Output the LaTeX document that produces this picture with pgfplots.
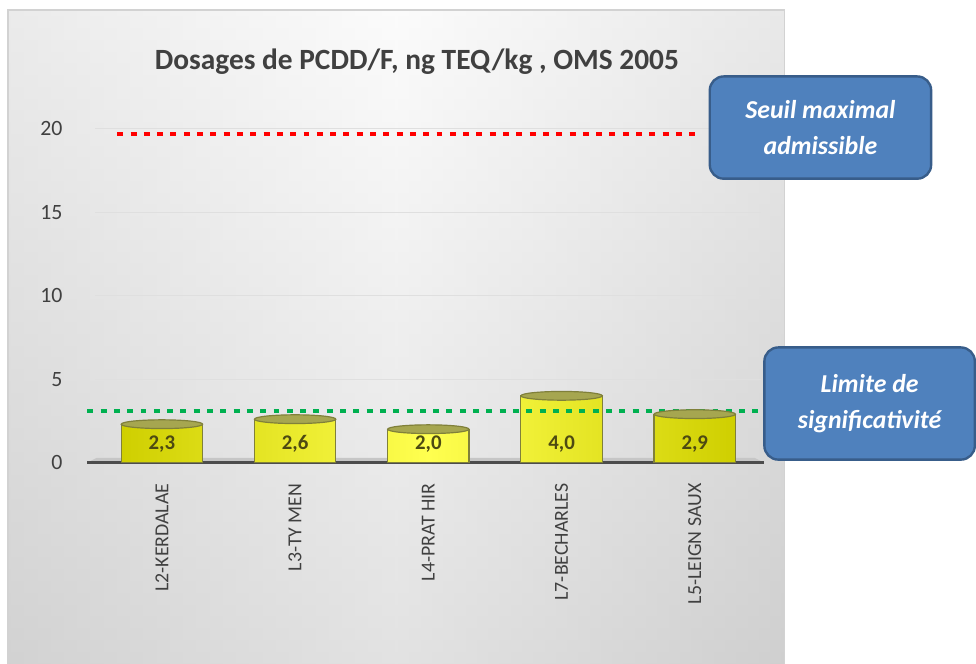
\documentclass[border=0pt]{standalone}
\usepackage{pgfplots}
\pgfplotsset{compat=1.18}
\usepackage{pgfplotstable}
\usepackage{fontspec}
\setmainfont{Carlito}

\definecolor{txt}{HTML}{404040}
\definecolor{boxblue}{HTML}{4F81BD}
\definecolor{boxedge}{HTML}{385D8A}
\definecolor{seuil}{HTML}{FF0000}
\definecolor{limite}{HTML}{00B050}
\definecolor{barmid}{HTML}{FFFF50}
\definecolor{baredge}{HTML}{CFCF00}
\definecolor{barline}{HTML}{80803A}
\definecolor{capfill}{HTML}{A6A650}
\definecolor{vallab}{HTML}{4D4A12}

% flat ellipse used as the top of each cylinder
\pgfdeclareplotmark{cap}{%
  \pgfpathellipse{\pgfpointorigin}{\pgfqpoint{20.5pt}{0pt}}{\pgfqpoint{0pt}{2.2pt}}%
  \pgfusepathqfillstroke}

\pgfplotstableread{
x val
0 2.3
1 2.6
2 2.0
3 4.0
4 2.9
}\dosages

\begin{document}
\begin{tikzpicture}
\begin{scope}[x=0.5pt,y=-0.5pt]
  \path[use as bounding box] (0,0) rectangle (976,668);
  \fill[white] (0,0) rectangle (976,668);
  % chart panel
  \shade[left color=gray!28, right color=gray!32, middle color=gray!5] (8,10) rectangle (790,690);
  \shade[top color=white, bottom color=gray!45, opacity=0.45] (8,10) rectangle (790,690);
  \draw[gray!35, line width=0.6pt] (8,690) -- (8,10) -- (790,10) -- (790,690);
  \node[font=\bfseries\fontsize{14.8}{17}\selectfont, text=txt] at (420,62)
    {Dosages de PCDD/F, ng TEQ/kg , OMS 2005};
\end{scope}

\begin{axis}[
  at={(48pt,-233pt)}, anchor=south west,
  scale only axis, width=335.5pt, height=185pt,
  xmin=-0.5, xmax=4.5, ymin=0, ymax=22,
  clip=false,
  axis line style={draw=none},
  major tick length=0pt,
  xtick={0,...,4},
  xticklabels={L2-KERDALAE,L3-TY MEN,L4-PRAT HIR,L7-BECHARLES,L5-LEIGN SAUX},
  xticklabel style={rotate=90, anchor=east, font=\fontsize{10}{12}\selectfont, text=txt},
  xticklabel shift=7pt,
  ytick={0,5,10,15,20},
  yticklabel style={font=\fontsize{11}{13}\selectfont, text=txt},
  yticklabel shift=13pt,
  /pgf/number format/assume math mode=true,
  ymajorgrids,
  grid style={white!75!gray, line width=0.5pt},
]
  % floor of the 3-D plot area
  \fill[gray!45] (axis cs:-0.56,0) -- (axis cs:4.52,0) -- (axis cs:4.45,0.28) -- (axis cs:-0.49,0.28) -- cycle;
  \draw[gray!60!black, line width=1.2pt] (axis cs:-0.56,0) -- (axis cs:4.52,0);

  \addplot[ybar, bar width=41pt, draw=barline, line width=0.6pt,
    left color=baredge, right color=baredge, middle color=barmid,
    point meta=y,
    visualization depends on={y \as \rawy},
    nodes near coords={\pgfmathprintnumber[use comma,fixed,fixed zerofill,precision=1]{\pgfplotspointmeta}},
    every node near coord/.append style={anchor=center,
      shift={(axis direction cs:0,-\rawy)}, yshift=9.5pt,
      font=\bfseries\fontsize{10.5}{12}\selectfont, text=vallab}]
    table[x=x, y=val] {\dosages};

  \addplot[only marks, mark=cap, mark options={fill=capfill, draw=barline, line width=0.6pt}]
    table[x=x, y=val] {\dosages};

  % threshold lines
  \addplot[seuil, line width=2.2pt, dash pattern=on 3pt off 3.7pt]
    coordinates {(-0.335,19.7) (4.045,19.7)};
  \addplot[limite, line width=2.2pt, dash pattern=on 3pt off 3.7pt]
    coordinates {(-0.56,3.1) (4.52,3.1)};
\end{axis}

\begin{scope}[x=0.5pt,y=-0.5pt]
  \tikzset{callout/.style={draw=boxedge, fill=boxblue, line width=1.2pt, rounded corners=7pt,
      text=white, font=\bfseries\itshape\fontsize{13}{18.5}\selectfont, align=center, inner sep=0pt}}
  \node[callout, minimum width=111.5pt, minimum height=51.5pt] at (826.5,128.5)
    {Seuil maximal\\admissible};
  \node[callout, minimum width=106pt, minimum height=56.5pt] at (876,406.5)
    {Limite de\\significativité};
\end{scope}
\end{tikzpicture}
\end{document}
